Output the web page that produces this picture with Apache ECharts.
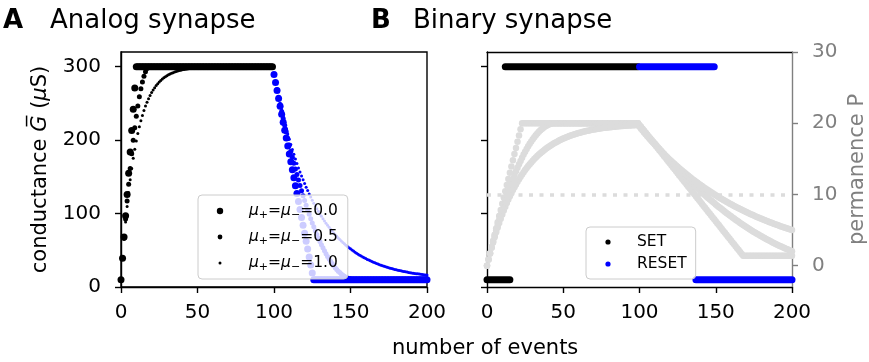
<!DOCTYPE html>
<html><head><meta charset="utf-8">
<script src="https://cdn.jsdelivr.net/npm/echarts@6/dist/echarts.min.js"></script>
<style>html,body{margin:0;padding:0;background:#fff}#c{width:869px;height:362px}</style>
</head><body><div id="c"></div>
<script>
const FONT = 'DejaVu Sans';
const xTicks = [0, 50, 100, 150, 200];
const gTicks = [0, 100, 200, 300];
const pTicks = [0, 10, 20, 30];
const pThreshold = 10;
const setStart = 0;      // first SET event
const resetStart = 100;  // first RESET event

// ---- Analog synapse: conductance G (uS) per event ----
const gSetMu0 = [10,39,68,97,126,155,184,213,242,271,
300,300,300,300,300,300,300,300,300,300,
300,300,300,300,300,300,300,300,300,300,
300,300,300,300,300,300,300,300,300,300,
300,300,300,300,300,300,300,300,300,300,
300,300,300,300,300,300,300,300,300,300,
300,300,300,300,300,300,300,300,300,300,
300,300,300,300,300,300,300,300,300,300,
300,300,300,300,300,300,300,300,300,300,
300,300,300,300,300,300,300,300,300,300];
const gResetMu0 = [289.2,278.4,267.6,256.8,246,235.2,224.4,213.6,202.8,192,
181.2,170.4,159.6,148.8,138,127.2,116.4,105.6,94.8,84,
73.2,62.4,51.6,40.8,30,19.2,10,10,10,10,
10,10,10,10,10,10,10,10,10,10,
10,10,10,10,10,10,10,10,10,10,
10,10,10,10,10,10,10,10,10,10,
10,10,10,10,10,10,10,10,10,10,
10,10,10,10,10,10,10,10,10,10,
10,10,10,10,10,10,10,10,10,10,
10,10,10,10,10,10,10,10,10,10,
10];
const gSetMu05 = [10,39,66.5,92.5,117,140,161.5,181.5,200,217,
232.5,246.5,259,269.9,279.2,287,293.1,297.6,300,300,
300,300,300,300,300,300,300,300,300,300,
300,300,300,300,300,300,300,300,300,300,
300,300,300,300,300,300,300,300,300,300,
300,300,300,300,300,300,300,300,300,300,
300,300,300,300,300,300,300,300,300,300,
300,300,300,300,300,300,300,300,300,300,
300,300,300,300,300,300,300,300,300,300,
300,300,300,300,300,300,300,300,300,300];
const gResetMu05 = [289.3,278.8,268.5,258.4,248.6,238.9,229.4,220.1,211.0,202.2,
193.5,185.0,176.7,168.6,160.8,153.1,145.6,138.3,131.2,124.4,
117.7,111.2,104.9,98.9,93.0,87.3,81.9,76.6,71.5,66.7,
62.0,57.5,53.3,49.2,45.3,41.7,38.2,34.9,31.9,29.0,
26.3,23.9,21.6,19.6,17.7,16.1,14.6,13.3,12.3,11.4,
10.8,10.3,10.1,10,10,10,10,10,10,10,
10,10,10,10,10,10,10,10,10,10,
10,10,10,10,10,10,10,10,10,10,
10,10,10,10,10,10,10,10,10,10,
10,10,10,10,10,10,10,10,10,10,
10];
const gSetMu1 = [10,39,65.1,88.6,109.7,128.8,145.9,161.3,175.2,187.7,
198.9,209.0,218.1,226.3,233.6,240.3,246.3,251.6,256.5,260.8,
264.7,268.3,271.4,274.3,276.9,279.2,281.3,283.2,284.8,286.3,
287.7,288.9,290.0,291.0,291.9,292.8,293.5,294.1,294.7,295.2,
295.7,296.1,296.5,296.9,297.2,297.5,297.7,297.9,298.1,298.3,
298.5,298.7,298.8,298.9,299.0,299.1,299.2,299.3,299.4,299.4,
299.5,299.6,299.6,299.7,299.7,299.7,300,300,300,300,
300,300,300,300,300,300,300,300,300,300,
300,300,300,300,300,300,300,300,300,300,
300,300,300,300,300,300,300,300,300,300];
const gResetMu1 = [289.2,278.8,268.8,259.2,249.9,241.0,232.4,224.1,216.2,208.5,
201.1,194.0,187.2,180.6,174.2,168.1,162.2,156.6,151.1,145.9,
140.8,135.9,131.3,126.8,122.4,118.2,114.2,110.3,106.6,103.0,
99.5,96.2,93.0,89.9,86.9,84.1,81.3,78.7,76.1,73.7,
71.3,69.0,66.8,64.7,62.7,60.7,58.8,57.0,55.3,53.6,
52.0,50.4,48.9,47.4,46.0,44.7,43.4,42.2,41.0,39.8,
38.7,37.6,36.6,35.6,34.7,33.8,32.9,32.0,31.2,30.4,
29.7,28.9,28.2,27.5,26.9,26.2,25.6,25.1,24.5,24.0,
23.4,22.9,22.5,22.0,21.5,21.1,20.7,20.3,19.9,19.5,
19.2,18.8,18.5,18.2,17.9,17.6,17.3,17.0,16.8,16.5,
16.3];

// ---- Binary synapse: permanence P per event ----
const pSetMu0 = [0,0.87,1.74,2.61,3.48,4.35,5.22,6.09,6.96,7.83,
8.70,9.57,10.44,11.31,12.18,13.05,13.92,14.79,15.66,16.53,
17.40,18.27,19.14,20,20,20,20,20,20,20,
20,20,20,20,20,20,20,20,20,20,
20,20,20,20,20,20,20,20,20,20,
20,20,20,20,20,20,20,20,20,20,
20,20,20,20,20,20,20,20,20,20,
20,20,20,20,20,20,20,20,20,20,
20,20,20,20,20,20,20,20,20,20,
20,20,20,20,20,20,20,20,20,20];
const pResetMu0 = [19.73,19.46,19.19,18.92,18.65,18.38,18.11,17.84,17.57,17.30,
17.03,16.76,16.49,16.22,15.95,15.68,15.41,15.14,14.87,14.60,
14.33,14.06,13.79,13.52,13.25,12.98,12.71,12.44,12.17,11.90,
11.63,11.36,11.09,10.82,10.55,10.28,10.01,9.74,9.47,9.20,
8.93,8.66,8.39,8.12,7.85,7.58,7.31,7.04,6.77,6.50,
6.23,5.96,5.69,5.42,5.15,4.88,4.61,4.34,4.07,3.80,
3.53,3.26,2.99,2.72,2.45,2.18,1.91,1.64,1.4,1.4,
1.4,1.4,1.4,1.4,1.4,1.4,1.4,1.4,1.4,1.4,
1.4,1.4,1.4,1.4,1.4,1.4,1.4,1.4,1.4,1.4,
1.4,1.4,1.4,1.4,1.4,1.4,1.4,1.4,1.4,1.4,
1.4];
const pSetMu05 = [0,0.87,1.72,2.55,3.37,4.16,4.93,5.69,6.42,7.14,
7.84,8.52,9.18,9.82,10.44,11.04,11.62,12.18,12.73,13.25,
13.76,14.24,14.71,15.16,15.59,16.00,16.38,16.75,17.10,17.44,
17.75,18.04,18.31,18.56,18.80,19.01,19.20,19.38,19.53,19.66,
19.78,19.87,19.94,19.99,20,20,20,20,20,20,
20,20,20,20,20,20,20,20,20,20,
20,20,20,20,20,20,20,20,20,20,
20,20,20,20,20,20,20,20,20,20,
20,20,20,20,20,20,20,20,20,20,
20,20,20,20,20,20,20,20,20,20];
const pResetMu05 = [19.73,19.46,19.20,18.93,18.67,18.41,18.15,17.90,17.64,17.39,
17.14,16.89,16.64,16.40,16.15,15.91,15.67,15.43,15.20,14.96,
14.73,14.50,14.27,14.04,13.82,13.60,13.37,13.15,12.94,12.72,
12.50,12.29,12.08,11.87,11.67,11.46,11.26,11.06,10.86,10.66,
10.46,10.27,10.07,9.88,9.69,9.51,9.32,9.14,8.96,8.78,
8.60,8.42,8.25,8.08,7.91,7.74,7.57,7.40,7.24,7.08,
6.92,6.76,6.61,6.45,6.30,6.15,6.00,5.85,5.71,5.56,
5.42,5.28,5.14,5.01,4.87,4.74,4.61,4.48,4.36,4.23,
4.11,3.99,3.87,3.75,3.63,3.52,3.41,3.30,3.19,3.08,
2.97,2.87,2.77,2.67,2.57,2.48,2.38,2.29,2.20,2.11,
2.02];
const pSetMu1 = [0,0.87,1.70,2.50,3.26,3.99,4.68,5.35,5.99,6.60,
7.18,7.74,8.27,8.78,9.27,9.74,10.18,10.61,11.02,11.41,
11.78,12.14,12.48,12.81,13.12,13.42,13.71,14.00,14.24,14.49,
14.73,14.96,15.18,15.39,15.59,15.78,15.97,16.14,16.31,16.47,
16.62,16.77,16.91,17.05,17.17,17.30,17.41,17.53,17.63,17.74,
17.84,17.93,18.02,18.11,18.19,18.27,18.34,18.41,18.48,18.55,
18.61,18.67,18.73,18.79,18.84,18.89,18.94,18.98,19.03,19.07,
19.11,19.15,19.19,19.22,19.26,19.29,19.32,19.35,19.38,19.40,
19.43,19.45,19.48,19.50,19.52,19.54,19.56,19.58,19.60,19.62,
19.63,19.65,19.67,19.68,19.69,19.71,19.72,19.73,19.74,19.76];
const pResetMu1 = [19.49,19.23,18.97,18.71,18.46,18.21,17.97,17.72,17.48,17.25,
17.02,16.79,16.56,16.34,16.12,15.90,15.68,15.47,15.26,15.06,
14.85,14.65,14.46,14.26,14.07,13.88,13.69,13.51,13.32,13.14,
12.97,12.79,12.62,12.45,12.28,12.11,11.95,11.79,11.63,11.47,
11.32,11.17,11.01,10.87,10.72,10.57,10.43,10.29,10.15,10.01,
9.88,9.75,9.61,9.48,9.36,9.23,9.11,8.98,8.86,8.74,
8.62,8.51,8.39,8.28,8.17,8.06,7.95,7.84,7.74,7.63,
7.53,7.43,7.33,7.23,7.13,7.03,6.94,6.84,6.75,6.66,
6.57,6.48,6.40,6.31,6.22,6.14,6.06,5.97,5.89,5.81,
5.74,5.66,5.58,5.51,5.43,5.36,5.29,5.22,5.15,5.08,
5.01];

// ---- Binary synapse state (conductance) runs: [event, G] ----
const binarySetLow = [[0, 10], [15, 10]];
const binarySetHigh = [[12, 300], [99, 300]];
const binaryResetHigh = [[100, 300], [149, 300]];
const binaryResetLow = [[137, 10], [200, 10]];

const legendNamesA = ['mu=0.0', 'mu=0.5', 'mu=1.0'];
const legendValuesA = ['0.0', '0.5', '1.0'];
const legendNamesB = ['SET', 'RESET'];

const BLACK = '#000000', BLUE = '#0000ff', GREY = '#dcdcdc', AXGREY = '#808080';

function toXY(arr, start) { return arr.map((v, i) => [start + i, v]); }
function dotIcon(r) {
  // bounding box 31x14, dot centred at (7,7)
  return 'path://M0,0L0,0M31,14L31,14M' + (7 + r) + ',7a' + r + ',' + r + ' 0 1,0 ' + (-2 * r) + ',0a' + r + ',' + r + ' 0 1,0 ' + (2 * r) + ',0z';
}
function legendLabelA(name) {
  const v = legendValuesA[legendNamesA.indexOf(name)];
  return '{m|\u03bc}{s|+}{n|=}{m|\u03bc}{s|\u2212}{n|=' + v + '}';
}

const chart = echarts.init(document.getElementById('c'), null, {renderer: 'canvas'});

const tickLabel = {fontFamily: FONT, fontSize: 20, color: '#000'};
function xAxisCfg(gi) {
  return {
    type: 'value', gridIndex: gi, min: 0, max: 200, interval: 50,
    axisLine: {show: true, onZero: false, lineStyle: {color: '#000', width: 1.4}},
    axisTick: {show: true, length: 6, lineStyle: {color: '#000', width: 1.4}, customValues: xTicks},
    axisLabel: Object.assign({margin: 16, customValues: xTicks}, tickLabel),
    splitLine: {show: false}
  };
}

const option = {
  animation: false,
  backgroundColor: '#ffffff',
  title: [
    {text: 'A', left: 3, top: 8, padding: 0, textStyle: {fontFamily: FONT, fontSize: 26, fontWeight: 'bold', color: '#000', lineHeight: 26}},
    {text: 'Analog synapse', left: 50, top: 8, padding: 0, textStyle: {fontFamily: FONT, fontSize: 26, fontWeight: 'normal', color: '#000', lineHeight: 26}},
    {text: 'B', left: 371, top: 8, padding: 0, textStyle: {fontFamily: FONT, fontSize: 26, fontWeight: 'bold', color: '#000', lineHeight: 26}},
    {text: 'Binary synapse', left: 413, top: 8, padding: 0, textStyle: {fontFamily: FONT, fontSize: 26, fontWeight: 'normal', color: '#000', lineHeight: 26}},
    {text: 'number of events', left: 392, top: 338, padding: 0, textStyle: {fontFamily: FONT, fontSize: 21, fontWeight: 'normal', color: '#000', lineHeight: 21}}
  ],
  grid: [
    {left: 121, top: 52, width: 306, height: 235, show: true, borderColor: '#000', borderWidth: 1.4, backgroundColor: 'transparent'},
    {left: 487, top: 52, width: 306, height: 235, show: false}
  ],
  legend: [
    {
      data: legendNamesA.map((n, i) => ({name: n, icon: dotIcon([3.2, 2.4, 1.5][i]), itemStyle: {color: BLACK, opacity: 1}})),
      left: 198, top: 195, orient: 'vertical', selectedMode: false,
      itemWidth: 31, itemHeight: 14, itemGap: 6, padding: [6, 10, 6, 15],
      backgroundColor: 'rgba(255,255,255,0.8)', borderColor: '#cccccc', borderWidth: 1, borderRadius: 4,
      formatter: legendLabelA,
      textStyle: {fontFamily: FONT, fontSize: 15.5, color: '#000', lineHeight: 20,
        rich: {
          m: {fontFamily: FONT, fontSize: 15.5, fontStyle: 'italic', color: '#000', lineHeight: 20, verticalAlign: 'middle'},
          n: {fontFamily: FONT, fontSize: 15.5, color: '#000', lineHeight: 20, verticalAlign: 'middle'},
          s: {fontFamily: FONT, fontSize: 11, color: '#000', lineHeight: 11, verticalAlign: 'bottom'}
        }}
    },
    {
      data: legendNamesB.map((n, i) => ({name: n, icon: dotIcon(2.6), itemStyle: {color: i === 0 ? BLACK : BLUE, opacity: 1}})),
      left: 586, top: 227, orient: 'vertical', selectedMode: false,
      itemWidth: 31, itemHeight: 14, itemGap: 4, padding: [6, 9, 6, 15],
      backgroundColor: 'rgba(255,255,255,0.8)', borderColor: '#cccccc', borderWidth: 1, borderRadius: 4,
      textStyle: {fontFamily: FONT, fontSize: 15.5, color: '#000', lineHeight: 18}
    }
  ],
  xAxis: [
    xAxisCfg(0),
    xAxisCfg(1),
    {type: 'value', gridIndex: 1, position: 'top', min: 0, max: 200,
     axisLine: {show: true, onZero: false, lineStyle: {color: '#000', width: 1.4}},
     axisTick: {show: false}, axisLabel: {show: false}, splitLine: {show: false}}
  ],
  yAxis: [
    {
      type: 'value', gridIndex: 0, min: 0, max: 320, interval: 100,
      name: '{t|conductance }{i|G\u0305}{t| (}{i|\u03bc}{t|S)}',
      nameLocation: 'middle', nameGap: 70, nameRotate: 90,
      nameTextStyle: {fontFamily: FONT, fontSize: 21, color: '#000',
        rich: {t: {fontFamily: FONT, fontSize: 21, color: '#000'}, i: {fontFamily: FONT, fontSize: 21, fontStyle: 'italic', color: '#000'}}},
      axisLine: {show: true, onZero: false, lineStyle: {color: '#000', width: 1.4}},
      axisTick: {show: true, length: 6, lineStyle: {color: '#000', width: 1.4}, customValues: gTicks},
      axisLabel: Object.assign({margin: 20, customValues: gTicks, formatter: v => (gTicks.indexOf(v) >= 0 ? String(v) : '')}, tickLabel),
      splitLine: {show: false}
    },
    {
      type: 'value', gridIndex: 1, min: 0, max: 320, interval: 100,
      axisLine: {show: true, onZero: false, lineStyle: {color: '#000', width: 1.4}},
      axisTick: {show: true, length: 6, lineStyle: {color: '#000', width: 1.4}, customValues: gTicks},
      axisLabel: {show: false},
      splitLine: {show: false}
    },
    {
      type: 'value', gridIndex: 1, position: 'right', min: -3, max: 30,
      name: 'permanence P', nameLocation: 'middle', nameGap: 55, nameRotate: 90,
      nameTextStyle: {fontFamily: FONT, fontSize: 21, color: AXGREY},
      axisLine: {show: true, onZero: false, lineStyle: {color: AXGREY, width: 1.4}},
      axisTick: {show: true, length: 6, lineStyle: {color: AXGREY, width: 1.4}, customValues: pTicks},
      axisLabel: {margin: 20, customValues: pTicks, fontFamily: FONT, fontSize: 20, color: AXGREY,
        formatter: v => (pTicks.indexOf(v) >= 0 ? String(v) : '')},
      splitLine: {show: false}
    }
  ],
  series: []
};

// Analog synapse (panel A)
const aSeries = [
  ['mu=0.0', gSetMu0, gResetMu0, 7],
  ['mu=0.5', gSetMu05, gResetMu05, 5],
  ['mu=1.0', gSetMu1, gResetMu1, 3]
];
aSeries.forEach(([name, setArr, resetArr, size]) => {
  option.series.push({type: 'scatter', name, xAxisIndex: 0, yAxisIndex: 0, symbol: 'circle', symbolSize: size,
    data: toXY(setArr, setStart), itemStyle: {color: BLACK, opacity: 1}, silent: true});
  option.series.push({type: 'scatter', name, xAxisIndex: 0, yAxisIndex: 0, symbol: 'circle', symbolSize: size,
    data: toXY(resetArr, resetStart), itemStyle: {color: BLUE, opacity: 1}, silent: true});
});

// Binary synapse (panel B): legend proxies first
option.series.push({type: 'scatter', name: 'SET', xAxisIndex: 1, yAxisIndex: 1, data: [], itemStyle: {color: BLACK, opacity: 1}});
option.series.push({type: 'scatter', name: 'RESET', xAxisIndex: 1, yAxisIndex: 1, data: [], itemStyle: {color: BLUE, opacity: 1}});

// permanence curves (grey)
[[pSetMu0, pResetMu0], [pSetMu05, pResetMu05], [pSetMu1, pResetMu1]].forEach(([s, r], k) => {
  option.series.push({type: 'scatter', name: 'P', xAxisIndex: 1, yAxisIndex: 2, symbolSize: 6.5,
    data: toXY(s, setStart), itemStyle: {color: GREY, opacity: 1}, silent: true, z: 1});
  option.series.push({type: 'scatter', name: 'P', xAxisIndex: 1, yAxisIndex: 2, symbolSize: 6.5,
    data: toXY(r, resetStart), itemStyle: {color: GREY, opacity: 1}, silent: true, z: 1,
    markLine: k === 0 ? {silent: true, symbol: ['none', 'none'], label: {show: false},
      lineStyle: {color: GREY, width: 3.5, type: [4, 6.5], opacity: 1}, data: [{yAxis: pThreshold}]} : undefined});
});

// state bars
[[binarySetLow, BLACK], [binarySetHigh, BLACK], [binaryResetHigh, BLUE], [binaryResetLow, BLUE]].forEach(([d, c]) => {
  option.series.push({type: 'line', name: 'state', xAxisIndex: 1, yAxisIndex: 1, data: d, showSymbol: false,
    symbol: 'none', clip: true, silent: true, z: 3,
    lineStyle: {color: c, width: 7, cap: 'round', opacity: 1}, itemStyle: {color: c}});
});

chart.setOption(option);
</script>
</body></html>
